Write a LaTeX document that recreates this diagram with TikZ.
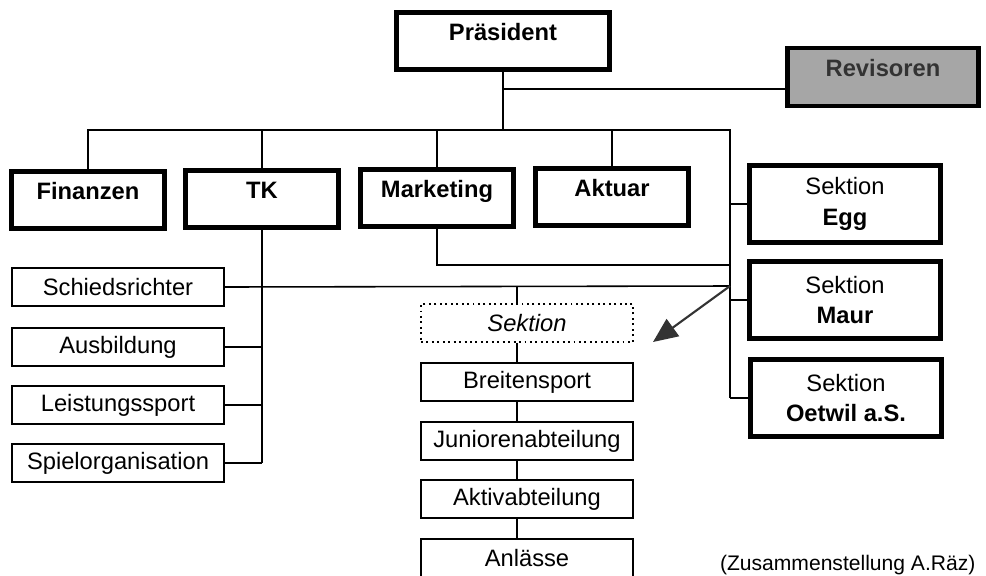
\documentclass[tikz,border=0pt]{standalone}
\usepackage{fontspec}
\setmainfont{Liberation Sans}
\usetikzlibrary{arrows.meta}

\begin{document}
\begin{tikzpicture}[x=0.02cm, y=-0.02cm,
        every node/.style={draw, rectangle, inner sep=1pt, align=center, font=\fontsize{13.5}{17.5}\selectfont},
        chief/.style={line width=2.6pt, minimum width=3.06cm, minimum height=1.14cm, text height=10pt, text depth=11pt, font=\fontsize{13.5}{17.5}\selectfont\bfseries},
        sect/.style={line width=2.6pt, minimum width=3.82cm, minimum height=1.54cm},
        unit/.style={line width=1.1pt, minimum width=4.24cm, minimum height=0.76cm},
        line width=0.9pt]
        \useasboundingbox (0,0) rectangle (986,575);
        \clip (0,0) rectangle (986,575);
        \node[chief, minimum width=4.25cm, minimum height=1.15cm] (pres) at (503,41) {Präsident};
        \node[chief, minimum width=3.82cm, minimum height=1.16cm, fill=black!35, text=black!80] (rev) at (883,77) {Revisoren};
        \node[chief] (fin) at (88,200) {Finanzen};
        \node[chief] (tk) at (262,199) {TK};
        \node[chief] (mkt) at (437,198) {Marketing};
        \node[chief] (akt) at (612,197) {Aktuar};
        \node[sect] (egg) at (845,204) {Sektion\\\textbf{Egg}};
        \node[sect] (maur) at (845,300) {Sektion\\\textbf{Maur}};
        \node[sect] (oet) at (846,398) {Sektion\\\textbf{Oetwil a.S.}};
        \node[unit] (schied) at (118,287) {Schiedsrichter};
        \node[unit] (ausb) at (118,347) {Ausbildung};
        \node[unit] (leist) at (118,405) {Leistungssport};
        \node[unit] (spiel) at (118,463) {Spielorganisation};
        \node[unit, dotted, line width=1.3pt, font=\fontsize{13.5}{17.5}\selectfont\itshape] (sek) at (527,323) {Sektion};
        \node[unit] (breit) at (527,382) {Breitensport};
        \node[unit] (jun) at (527,441) {Juniorenabteilung};
        \node[unit] (aktiv) at (527,499) {Aktivabteilung};
        \node[unit] (anl) at (527,558) {Anlässe};
        \node[draw=none, anchor=north east, font=\fontsize{12}{14}\selectfont] (quelle) at (978,553) {(Zusammenstellung A.Räz)};
        \coordinate (bl) at (88,130);
        \coordinate (br) at (730,130);
        \coordinate (rj) at (503,89);
        \coordinate (mj) at (730,265);
        \coordinate (j) at (730,286);
        \coordinate (sx) at (517,286);
        \coordinate (pfeil) at (653,342);
        \draw (pres) -- (pres.south |- bl);
        \draw (rj) -- (rj -| rev.west);
        \draw (fin.north) -- (bl) -- (br) -- (oet.west -| br);
        \foreach \n in {tk,mkt,akt} \draw (\n.north) -- (\n.north |- bl);
        \foreach \n in {egg,maur,oet} \draw (\n.west) -- (\n.west -| br);
        \draw (mkt.south) -- (mkt.south |- mj) -- (mj);
        \draw (tk.south) -- (tk.south |- spiel);
        \draw (schied.east) -- (j);
        \foreach \n in {ausb,leist,spiel} \draw (\n.east) -- (\n.east -| tk.south);
        \draw (sx) -- (sek.north -| sx);
        \foreach \a/\b in {sek/breit,breit/jun,jun/aktiv,aktiv/anl} \draw (\a.south -| sx) -- (\b.north -| sx);
        \draw[-{Triangle[length=14pt,width=12pt]}, black!80, line width=1.2pt] (j) -- (pfeil);
    \end{tikzpicture}
\end{document}
